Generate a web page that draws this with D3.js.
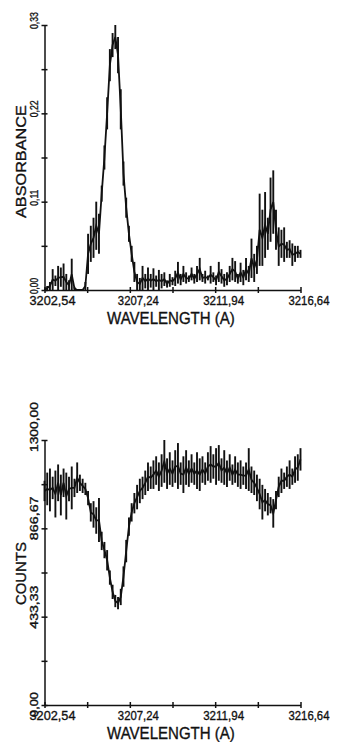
<!DOCTYPE html>
<html>
<head>
<meta charset="utf-8">
<script src="https://cdn.jsdelivr.net/npm/d3@7"></script>
<style>
  html, body { margin: 0; padding: 0; background: #fff; }
  svg { display: block; }
  text { font-family: "Liberation Sans", "DejaVu Sans", sans-serif; fill: #111; stroke: #111; stroke-width: 0.35; }
</style>
</head>
<body>
<script>
// Wavelength grid (Angstrom) shared by both spectra
const wlStart = 3202.54;
const wlEnd = 3216.64;
const wlTicks = [3202.54, 3204.89, 3207.24, 3209.59, 3211.94, 3214.29, 3216.64];
const wlLabels = ["3202,54", "3207,24", "3211,94", "3216,64"];

// Absorbance axis
const absTicks = [0, 0.055, 0.11, 0.165, 0.22, 0.275, 0.33];
const absLabels = ["0,00", "0,11", "0,22", "0,33"];

// Counts axis
const countTicks = [0, 216.67, 433.33, 650, 866.67, 1083.33, 1300];
const countLabels = ["0,00", "433,33", "866,67", "1300,00"];

// Absorbance spectrum: lower and upper envelope of each sample
const absLow = [
  0, 0, 0, 0, 0.005, 0, 0.004, 0, 0, 0,
  0, 0, 0, 0, 0, 0, 0.02, 0.035, 0.04, 0.05,
  0.045, 0.11, 0.15, 0.2, 0.26, 0.29, 0.3, 0.27, 0.2, 0.13,
  0.09, 0.06, 0.035, 0.01, 0, 0, 0, 0.002, 0, 0.003,
  0, 0.004, 0, 0.002, 0.005, 0.003, 0.004, 0.006, 0.005, 0.008,
  0.006, 0.01, 0.008, 0.01, 0.012, 0.008, 0.01, 0.012, 0.01, 0.008,
  0.012, 0.008, 0.01, 0.006, 0.01, 0.008, 0.004, 0.006, 0.01, 0.012,
  0.01, 0.008, 0.01, 0.006, 0.012, 0.01, 0.015, 0.01, 0.02, 0.03,
  0.03, 0.04, 0.05, 0.06, 0.07, 0.05, 0.03, 0.04, 0.035, 0.04,
  0.04, 0.03, 0.035, 0.04, 0.04
];
const absHigh = [
  0, 0.005, 0.01, 0.026, 0.018, 0.03, 0.028, 0.033, 0.02, 0.012,
  0.039, 0.004, 0, 0, 0, 0.01, 0.07, 0.08, 0.09, 0.11,
  0.095, 0.13, 0.18, 0.24, 0.3, 0.32, 0.33, 0.315, 0.25, 0.16,
  0.115, 0.08, 0.055, 0.035, 0.02, 0.015, 0.03, 0.02, 0.028, 0.02,
  0.027, 0.018, 0.025, 0.02, 0.022, 0.012, 0.02, 0.016, 0.024, 0.035,
  0.02, 0.03, 0.022, 0.018, 0.028, 0.02, 0.03, 0.04, 0.02, 0.024,
  0.018, 0.03, 0.022, 0.018, 0.035, 0.026, 0.02, 0.022, 0.03, 0.04,
  0.036, 0.02, 0.034, 0.025, 0.04, 0.03, 0.064, 0.045, 0.055, 0.12,
  0.1, 0.122, 0.09, 0.14, 0.149, 0.1, 0.078, 0.075, 0.078, 0.06,
  0.062, 0.058, 0.055, 0.055, 0.05
];

// Detector counts spectrum: lower and upper envelope of each sample
const countLow = [
  1000, 980, 950, 1010, 920, 1000, 930, 1020, 910, 1000,
  960, 1020, 1040, 1050, 1040, 1030, 980, 900, 870, 840,
  800, 760, 720, 660, 590, 520, 480, 470, 490, 580,
  700, 830, 900, 940, 960, 990, 1010, 1030, 1050, 1060,
  1060, 1080, 1050, 1070, 1090, 1060, 1080, 1070, 1090, 1060,
  1080, 1040, 1080, 1070, 1090, 1080, 1060, 1050, 1090, 1080,
  1100, 1090, 1110, 1080, 1100, 1090, 1080, 1070, 1100, 1080,
  1090, 1070, 1060, 1080, 1060, 1050, 1040, 1030, 1000, 960,
  910, 950, 930, 940, 870, 960, 1020, 1040, 1060, 1070,
  1060, 1080, 1090, 1100, 1150
];
const countHigh = [
  1100, 1140, 1160, 1120, 1150, 1180, 1130, 1160, 1140, 1120,
  1170, 1110, 1190, 1130, 1110, 1090, 1050, 990, 1000, 970,
  1015, 850, 800, 760, 660, 590, 540, 530, 570, 680,
  810, 920, 990, 1040, 1080, 1110, 1120, 1150, 1190, 1170,
  1200, 1220, 1190, 1230, 1300, 1210, 1240, 1200, 1250, 1285,
  1190, 1220, 1250, 1200, 1230, 1190, 1240, 1210, 1220, 1190,
  1240, 1270, 1230, 1260, 1275, 1210, 1250, 1200, 1230, 1180,
  1220, 1190, 1200, 1170, 1190, 1260, 1170, 1150, 1130, 1110,
  1080, 1060, 1040, 1020, 1010, 1050, 1120, 1160, 1140, 1170,
  1200, 1160, 1220, 1230, 1260
];

const W = 337, H = 742;
const svg = d3.select("body").append("svg").attr("width", W).attr("height", H);

const x = d3.scaleLinear().domain([wlStart, wlEnd]).range([44.5, 300.5]);

function wavelengths(n) {
  const step = (wlEnd - wlStart) / (n - 1);
  return d3.range(n).map(i => wlStart + i * step);
}

// Place a text at a base transform and stretch it along its run to a target length
function fitText(t, base, target, size) {
  t.attr("font-size", size).attr("x", 0).attr("y", 0);
  const w = t.node().getComputedTextLength();
  t.attr("transform", `${base} scale(${(target / w).toFixed(4)},1)`);
  return t;
}

function drawPanel(opts) {
  const { y, low, high, yTicks, yLabels, yTitle, yTitleLen, labelStart, tickLabelLens, titleCenter } = opts;
  const g = svg.append("g");
  const wl = wavelengths(low.length);
  const pts = wl.map((w, i) => ({ w, lo: low[i], hi: high[i] }));

  // spectrum: vertical noise strokes on a heavy central trace
  g.append("g").selectAll("line").data(pts).join("line")
    .attr("x1", d => x(d.w)).attr("x2", d => x(d.w))
    .attr("y1", d => y(d.lo)).attr("y2", d => y(d.hi))
    .attr("stroke", "#111").attr("stroke-width", 1.9);
  const lineMid = d3.line().x(d => x(d.w)).y(d => y((d.lo + d.hi) / 2));
  g.append("path").datum(pts).attr("d", lineMid)
    .attr("fill", "none").attr("stroke", "#111").attr("stroke-width", 1.8);

  // x axis with ticks crossing the line
  const y0 = y.range()[0];
  const xAxis = d3.axisBottom(x).tickValues(wlTicks).tickFormat("").tickSizeOuter(0);
  const gx = g.append("g").attr("transform", `translate(0,${y0})`).call(xAxis);
  gx.select(".domain").attr("stroke", "#111").attr("stroke-width", 1.5);
  gx.selectAll(".tick line").attr("y1", -3).attr("y2", 3).attr("stroke", "#111").attr("stroke-width", 1.5);

  // y axis with ticks crossing the line
  const yAxis = d3.axisLeft(y).tickValues(yTicks).tickFormat("").tickSizeOuter(0);
  const gy = g.append("g").attr("transform", `translate(${x.range()[0]},0)`).call(yAxis);
  gy.select(".domain").attr("stroke", "#111").attr("stroke-width", 1.5);
  gy.selectAll(".tick line").attr("x1", -3).attr("x2", 3).attr("stroke", "#111").attr("stroke-width", 1.5);

  // wavelength tick labels
  wlLabels.forEach((lab, k) => {
    const tx = x(wlTicks[k * 2]);
    const first = k === 0;
    const t = g.append("text").text(lab);
    fitText(t, `translate(${first ? tx - 15 : tx - 12},${y0 + 15.3})`, first ? 46 : 41, 13.5);
  });

  // x axis title
  const xt = g.append("text").text("WAVELENGTH (A)");
  fitText(xt, `translate(107,${y0 + 33.5})`, 128, 16.5);

  // rotated y tick labels
  yLabels.forEach((lab, k) => {
    const ty = y(yTicks[k * 2]) + labelStart;
    const t = g.append("text").text(lab);
    fitText(t, `translate(37.5,${ty}) rotate(-90)`, tickLabelLens[k], 10.5);
  });

  // rotated y axis title, reading upward
  const yt = g.append("text").text(yTitle);
  fitText(yt, `translate(25.5,${titleCenter + yTitleLen / 2}) rotate(-90)`, yTitleLen, 15);
}

const yAbs = d3.scaleLinear().domain([0, 0.33]).range([290, 25]);
drawPanel({
  y: yAbs, low: absLow, high: absHigh,
  yTicks: absTicks, yLabels: absLabels,
  yTitle: "ABSORBANCE", yTitleLen: 113, titleCenter: 161.5,
  labelStart: 4, tickLabelLens: [16, 16, 17, 17]
});

const yCount = d3.scaleLinear().domain([0, 1300]).range([705, 440]);
drawPanel({
  y: yCount, low: countLow, high: countHigh,
  yTicks: countTicks, yLabels: countLabels,
  yTitle: "COUNTS", yTitleLen: 63, titleCenter: 573.5,
  labelStart: 12, tickLabelLens: [25, 43, 44, 50]
});
</script>
</body>
</html>
